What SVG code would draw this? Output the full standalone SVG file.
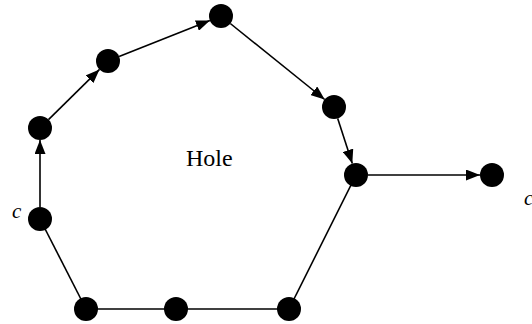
<svg xmlns="http://www.w3.org/2000/svg" width="532" height="324" viewBox="0 0 532 324">
<style>
.e{stroke:#000;stroke-width:1.6;fill:none}
.a{marker-end:url(#ah)}
.n{fill:#000}
.t{font-family:"Liberation Serif",serif;fill:#000}
.i{font-style:italic;font-size:21px}
</style>
<defs>
<marker id="ah" markerUnits="userSpaceOnUse" markerWidth="14" markerHeight="11" refX="14" refY="5.5" orient="auto">
<path d="M0,0 L14,5.5 L0,11 Z" fill="#000"/>
</marker>
</defs>
<rect width="532" height="324" fill="#fff"/>
<g id="connectors">
<line class="e a" x1="40" y1="207" x2="40" y2="140"/>
<line class="e a" x1="48.5" y1="119.6" x2="99.5" y2="69.4"/>
<line class="e a" x1="119.1" y1="56.6" x2="209.9" y2="20.4"/>
<line class="e a" x1="230.3" y1="23.5" x2="324.7" y2="99.5"/>
<line class="e a" x1="337.7" y1="118.4" x2="352.3" y2="163.6"/>
<line class="e a" x1="368" y1="175" x2="480" y2="175"/>
<line class="e" x1="40" y1="219" x2="86" y2="309"/>
<line class="e" x1="86" y1="309" x2="289" y2="309"/>
<line class="e" x1="289" y1="309" x2="356" y2="175"/>
</g>
<g id="nA"><circle class="n" cx="40" cy="128" r="12"/></g>
<g id="nB"><circle class="n" cx="108" cy="61" r="12"/></g>
<g id="nC"><circle class="n" cx="221" cy="16" r="12"/></g>
<g id="nD"><circle class="n" cx="334" cy="107" r="12"/></g>
<g id="nE"><circle class="n" cx="356" cy="175" r="12"/></g>
<g id="nF"><circle class="n" cx="492" cy="175" r="12"/></g>
<g id="nG"><circle class="n" cx="40" cy="219" r="12"/></g>
<g id="nH"><circle class="n" cx="86" cy="309" r="12"/></g>
<g id="nI"><circle class="n" cx="176" cy="309" r="12"/></g>
<g id="nJ"><circle class="n" cx="289" cy="309" r="12"/></g>
<g id="labels">
<text class="t" x="186" y="166" font-size="24">Hole</text>
<text class="t i" x="12" y="218">c</text>
<text class="t i" x="524" y="205">c</text>
</g>
</svg>
